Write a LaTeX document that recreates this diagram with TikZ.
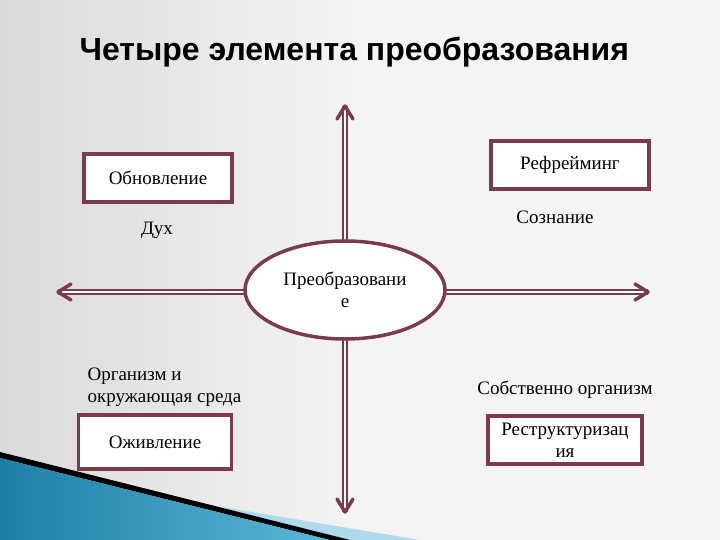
\documentclass[tikz,border=0pt]{standalone}
\usepackage{fontspec}
\usetikzlibrary{calc,shapes.geometric}
\setmainfont{Liberation Serif}
\newfontfamily\titlefont{Liberation Sans}
\definecolor{maroon}{HTML}{7A3B4E}
\definecolor{bgg}{HTML}{F4F4F4}
\definecolor{bgl}{HTML}{DADADA}
\definecolor{blueA}{HTML}{1E7FA6}
\definecolor{blueB}{HTML}{5BB7D6}
\begin{document}
\begin{tikzpicture}[x=1pt,y=-1pt,
  box/.style={draw=maroon,line width=3.5pt,fill=white,minimum width=#1,minimum height=48pt,font=\fontsize{19}{22}\selectfont,align=center},
  lbl/.style={font=\fontsize{19}{22}\selectfont,align=center},
  shaft/.style={draw=maroon,line width=1.8pt,double=white,double distance=2.5pt},
  tip/.style={draw=maroon,line width=3.5pt,line cap=round,line join=round}]
\useasboundingbox (0,0) rectangle (720,540);
\shade[left color=bgl,right color=bgg] (0,0) rectangle (360,540);
\fill[bgg] (359,0) rectangle (720,540);
% bottom-left decoration
\fill[blueB!50!white] (0,470) -- (420,540) -- (0,540) -- cycle;
\fill[black] (0,452) -- (350,540) -- (330,540) -- (0,458) -- cycle;
\shade[left color=blueA,right color=blueB] (0,458) -- (330,540) -- (0,540) -- cycle;
\node[font=\titlefont\bfseries\fontsize{32}{36}\selectfont,anchor=west] (title) at (76,52) {Четыре элемента преобразования};
% arrows
\coordinate (T) at (345,106);
\coordinate (B) at (345,512);
\coordinate (L) at (58,292);
\coordinate (R) at (648,292);
\draw[shaft] (T) -- (B);
\draw[shaft] (L) -- (R);
\draw[tip] ($(T)+(-8,13)$) -- (T) -- ($(T)+(8,13)$);
\draw[tip] ($(B)+(-8,-13)$) -- (B) -- ($(B)+(8,-13)$);
\draw[tip] ($(L)+(13,-8)$) -- (L) -- ($(L)+(13,8)$);
\draw[tip] ($(R)+(-13,-8)$) -- (R) -- ($(R)+(-13,8)$);
\node[ellipse,draw=maroon,line width=3.5pt,fill=white,minimum width=200pt,minimum height=98pt,lbl] (c) at (345,290) {Преобразовани\\е};
\node[box=148pt] (b1) at (158,178) {Обновление};
\node[box=158pt] (b2) at (570,165) {Рефрейминг};
\node[box=153pt,minimum height=54pt] (b3) at (155,442) {Оживление};
\node[box=154pt] (b4) at (565,440) {Реструктуризац\\ия};
\node[lbl] (d) at (157,230) {Дух};
\node[lbl] (s) at (555,217) {Сознание};
\node[lbl,anchor=west,align=left] (o) at (84,387) {Организм и\\окружающая среда};
\node[lbl] (so) at (565,390) {Собственно организм};
\end{tikzpicture}
\end{document}
